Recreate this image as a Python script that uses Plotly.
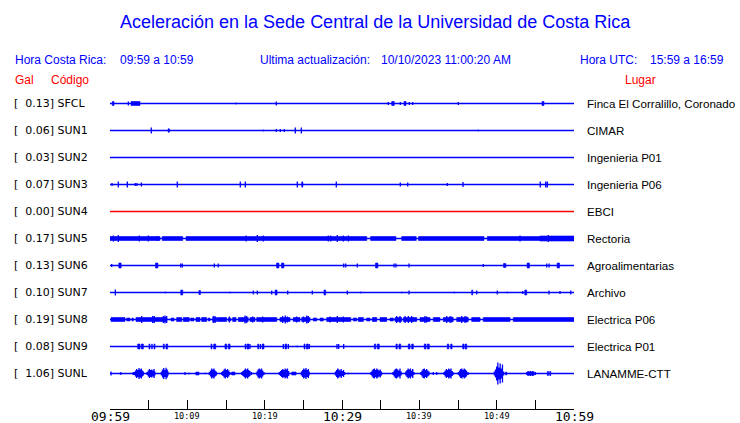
import plotly.graph_objects as go

# ---------------- data ----------------
STATIONS = ["SFCL", "SUN1", "SUN2", "SUN3", "SUN4", "SUN5", "SUN6", "SUN7", "SUN8", "SUN9", "SUNL"]
PEAK_GAL = [0.13, 0.06, 0.03, 0.07, 0.00, 0.17, 0.13, 0.10, 0.19, 0.08, 1.06]
PLACES = ["Finca El Corralillo, Coronado", "CIMAR", "Ingenieria P01", "Ingenieria P06", "EBCI",
          "Rectoria", "Agroalimentarias", "Archivo", "Electrica P06", "Electrica P01", "LANAMME-CTT"]

TICK_MINUTES = [0, 5, 10, 15, 20, 25, 30, 35, 40, 45, 50, 55, 60]
LABEL_MINUTES = [0, 10, 20, 30, 40, 50, 60]
LABEL_TEXT = ["09:59", "10:09", "10:19", "10:29", "10:39", "10:49", "10:59"]

# spikes: (minute after 09:59, relative amplitude); bands: (start minute, end minute, amplitude)
SFCL_SPIKES = [(2.37, 2), (16.33, 1), (21.50, 2), (35.99, 1.5), (37.54, 1.5), (38.70, 1.5), (39.14, 1.5), (45.04, 1.5)]
SFCL_BANDS = [(0.30, 0.52, 2), (2.72, 3.88, 2), (36.43, 36.76, 2), (38.02, 38.28, 2), (55.86, 56.12, 2)]

SUN1_SPIKES = [(5.34, 3), (7.59, 2), (19.82, 1), (21.50, 1.5), (22.02, 1.5), (22.54, 1.5), (23.96, 3), (24.74, 3), (47.63, 1)]
SUN1_BANDS = [(7.50, 7.68, 1.5)]

SUN2_SPIKES = []
SUN2_BANDS = []

SUN3_SPIKES = [(0.26, 1.5), (1.07, 3), (2.24, 3), (3.27, 1.5), (3.49, 1.5), (4.05, 2), (8.70, 3), (16.85, 3),
               (17.50, 3), (24.22, 3), (24.87, 3), (29.26, 3), (37.54, 2), (38.50, 2), (43.62, 1.5), (45.65, 2.5),
               (55.64, 3), (56.34, 3), (56.55, 3)]
SUN3_BANDS = [(24.80, 24.95, 2)]

SUN4_SPIKES = []
SUN4_BANDS = []

SUN5_SPIKES = [(0.43, 3), (1.07, 3.5), (3.79, 3), (4.95, 3), (6.12, 2.5), (17.59, 3), (19.05, 3.5), (19.82, 3),
               (28.23, 3), (28.54, 3), (29.39, 3.5), (30.17, 3), (30.82, 3), (53.02, 3), (56.68, 3.5)]
SUN5_BANDS = [(0.0, 6.47, 2), (6.76, 9.40, 2), (9.83, 33.20, 2), (33.70, 36.98, 2), (37.72, 39.60, 2),
              (39.90, 48.36, 2), (48.79, 55.60, 2), (55.60, 60.0, 2.5)]

SUN6_SPIKES = [(0.22, 1.5), (9.14, 2), (9.35, 2), (13.49, 2), (14.00, 2), (30.22, 2), (30.48, 2), (31.98, 2),
               (36.73, 2), (36.98, 2), (38.67, 2), (48.27, 1.5), (56.47, 2), (56.77, 2)]
SUN6_BANDS = [(1.14, 1.44, 2.5), (5.89, 6.19, 2.5), (21.54, 21.84, 2.5), (22.18, 22.48, 2.5), (34.34, 34.64, 2.5),
              (50.89, 51.19, 2), (53.94, 54.24, 2.5), (57.82, 58.12, 2.5)]

SUN7_SPIKES = [(0.69, 3), (7.15, 1), (15.52, 1), (18.53, 2), (19.05, 2), (20.91, 2), (22.98, 2), (26.16, 2),
               (30.69, 2), (32.42, 1), (37.72, 1), (38.67, 2), (44.52, 1), (47.42, 2), (50.08, 2), (51.38, 1),
               (53.37, 1.5), (56.77, 2), (58.19, 1.5), (59.58, 2)]
SUN7_BANDS = [(9.15, 9.40, 2.5), (11.50, 11.70, 2), (21.35, 21.60, 2.5), (27.67, 27.89, 2.5),
              (46.77, 46.90, 2.5), (53.64, 53.88, 2.5)]

SUN8_SPIKES = [(4.10, 3.5), (5.52, 3.5), (5.73, 3.5), (6.90, 3.5), (7.11, 4), (7.33, 3.5), (13.36, 3.5),
               (13.58, 3.5), (15.43, 3), (17.46, 4), (17.67, 3.5), (18.45, 3), (19.74, 3), (22.33, 3.5),
               (22.67, 4), (22.93, 3), (24.14, 3), (25.00, 3), (25.44, 4), (25.64, 3.5), (28.45, 3),
               (29.39, 3.5), (30.17, 3), (37.07, 3.5), (37.50, 3.5), (38.15, 3.5), (38.58, 3.5), (39.01, 3.5),
               (40.73, 3.5), (40.95, 3), (43.54, 3.5), (43.97, 3.5), (44.19, 3), (45.48, 3.5), (45.91, 3.5),
               (46.13, 3)]
SUN8_BANDS = [(0.13, 1.94, 2), (2.16, 2.59, 1.5), (2.84, 3.01, 1.5), (3.36, 5.60, 2), (5.60, 7.33, 2),
              (7.89, 8.28, 1.5), (8.62, 9.27, 2), (9.48, 10.25, 2), (10.43, 10.86, 1.5), (11.12, 11.64, 2),
              (11.85, 12.50, 2), (12.71, 12.93, 1.5), (13.28, 13.80, 2), (13.88, 15.09, 2), (15.30, 15.61, 1.5),
              (15.86, 16.29, 2), (16.60, 17.88, 2), (18.10, 18.75, 2), (18.97, 21.56, 2), (21.98, 23.28, 2),
              (23.70, 24.57, 2), (24.79, 25.86, 2), (26.29, 26.73, 1.5), (27.16, 27.58, 1.5), (28.02, 31.13, 2),
              (31.46, 31.90, 1.5), (32.11, 32.76, 2), (33.19, 33.62, 1.5), (33.92, 34.49, 2), (34.92, 35.78, 2),
              (36.21, 36.64, 1.5), (36.85, 37.72, 2), (37.93, 39.66, 2), (40.09, 41.38, 2), (41.81, 42.67, 2),
              (43.10, 44.39, 2), (44.83, 46.33, 2), (46.77, 47.85, 2), (48.27, 51.73, 2), (52.15, 60.0, 2)]

SUN9_SPIKES = [(18.10, 2.5), (19.44, 2.5), (22.41, 2.5), (23.06, 2.5), (24.22, 1), (25.77, 2.5), (29.35, 2.5),
               (29.57, 2.5), (30.22, 2.5)]
SUN9_BANDS = [(3.58, 3.88, 2.5), (4.05, 4.31, 2.5), (5.04, 5.17, 2.5), (5.39, 5.47, 2.5), (5.69, 5.82, 2.5),
              (6.89, 7.02, 2.5), (7.24, 7.46, 2.5), (13.06, 13.19, 2.5), (13.41, 13.67, 2.5), (14.87, 15.09, 2.5),
              (15.30, 15.52, 2.5), (17.46, 17.59, 2.5), (17.72, 17.98, 2.5), (19.10, 19.23, 2.5), (19.66, 19.91, 2.5),
              (22.63, 22.85, 2.5), (25.09, 25.22, 2.5), (25.39, 25.64, 2.5), (34.18, 34.36, 2.5), (34.57, 34.82, 2.5),
              (36.98, 37.15, 2.5), (37.37, 37.59, 2.5), (38.57, 38.79, 2.5), (39.01, 39.22, 2.5), (40.64, 40.86, 2.5),
              (41.03, 41.29, 2.5), (43.62, 43.80, 2.5), (44.06, 44.23, 2.5), (45.61, 45.78, 2.5), (45.91, 46.13, 2.5)]

SUNL_SPIKES = [(0.13, 2), (2.68, 0.8), (3.00, 1.5),
               (3.15, 1.5), (3.30, 3), (3.45, 4.5), (3.60, 3.5), (3.75, 5.5), (3.90, 4), (4.05, 5), (4.20, 3), (4.30, 2),
               (4.80, 1.5), (4.95, 3), (5.10, 4.5), (5.25, 3.5), (5.40, 4), (5.55, 3), (5.70, 4.5), (5.80, 2),
               (6.65, 2), (6.80, 4), (6.95, 5.5), (7.10, 3.5), (7.25, 5.7), (7.40, 4), (7.50, 2),
               (9.70, 1.5), (10.20, 1), (12.32, 1),
               (12.85, 1.5), (13.00, 3), (13.15, 5), (13.30, 4), (13.45, 5), (13.60, 3), (13.75, 2),
               (14.45, 1.5), (14.60, 2.5), (14.75, 4), (14.90, 5), (15.05, 3.5), (15.20, 4.5), (15.35, 3), (15.50, 1.5),
               (17.05, 1.5), (17.20, 2.5), (17.35, 3.5), (17.50, 5), (17.65, 4), (17.80, 5), (17.95, 3.5), (18.10, 2.5), (18.30, 1.5),
               (19.00, 2), (19.15, 4), (19.30, 5), (19.45, 4), (19.60, 5), (19.75, 3), (19.90, 1.5),
               (21.90, 1.5), (22.05, 2.5), (22.20, 3.5), (22.35, 4.5), (22.50, 3.5), (22.65, 5), (22.80, 4), (22.95, 5), (23.10, 2.5),
               (24.75, 2), (24.90, 3.5), (25.05, 5), (25.20, 4), (25.35, 5.5), (25.50, 3.5), (25.65, 4.5), (25.75, 2),
               (29.15, 2), (29.30, 3.5), (29.45, 5), (29.60, 4), (29.75, 3), (29.90, 4.5), (30.05, 2.5), (30.20, 3.5), (30.35, 1.5),
               (30.80, 1),
               (33.75, 1.5), (33.90, 3), (34.05, 4.5), (34.20, 5), (34.35, 3.5), (34.50, 5), (34.65, 4), (34.80, 3), (34.95, 4), (35.10, 2),
               (36.60, 1.5), (36.75, 3), (36.90, 4.5), (37.05, 5), (37.20, 4), (37.35, 3), (37.50, 5), (37.65, 2),
               (38.25, 2), (38.40, 3.5), (38.55, 5), (38.70, 4), (38.85, 5), (39.00, 3), (39.15, 4.5), (39.30, 1.5),
               (40.20, 1.5), (40.35, 3), (40.50, 4.5), (40.65, 5), (40.80, 3.5), (40.95, 4.5), (41.10, 3), (41.25, 2),
               (41.81, 1.5), (42.24, 1.5),
               (43.20, 1.5), (43.35, 3), (43.50, 4.5), (43.65, 3.5), (43.80, 5), (43.95, 4), (44.10, 5), (44.25, 2.5), (44.35, 1.5),
               (45.05, 1.5), (45.20, 3), (45.35, 4.5), (45.50, 5), (45.65, 3.5), (45.80, 5), (45.95, 4), (46.10, 3), (46.30, 1.5),
               (49.70, 2), (49.85, 4), (50.00, 7), (50.15, 11), (50.30, 6), (50.45, 10), (50.60, 5), (50.75, 9), (50.90, 2),
               (53.90, 1.5), (54.05, 2.5), (54.20, 2), (54.35, 2.5), (54.50, 2), (54.65, 2.5), (54.80, 2), (55.00, 1.5)]
SUNL_BANDS = [(1.30, 1.45, 1), (11.10, 11.50, 1.5), (15.73, 16.16, 1.5), (23.50, 24.05, 1.5), (51.15, 51.30, 1.5),
              (56.55, 56.70, 2), (56.85, 57.00, 2)]

SPIKES = [SFCL_SPIKES, SUN1_SPIKES, SUN2_SPIKES, SUN3_SPIKES, SUN4_SPIKES, SUN5_SPIKES,
          SUN6_SPIKES, SUN7_SPIKES, SUN8_SPIKES, SUN9_SPIKES, SUNL_SPIKES]
BANDS = [SFCL_BANDS, SUN1_BANDS, SUN2_BANDS, SUN3_BANDS, SUN4_BANDS, SUN5_BANDS,
         SUN6_BANDS, SUN7_BANDS, SUN8_BANDS, SUN9_BANDS, SUNL_BANDS]

# ---------------- layout / style ----------------
W, H = 740, 423
L, R, T, B = 110, 166, 90, 14
PW, PH = W - L - R, H - T - B
ROW = 27
TOP_PAD = 13.5
BLUE = "#0000FF"
RED = "#FF0000"


def fx(px):
    return (px - L) / PW


def fy(py):
    return (H - B - py) / PH


fig = go.Figure()

for i, name in enumerate(STATIONS):
    base = -ROW * i
    color = RED if name == "SUN4" else BLUE
    xs, ys = [0], [base]
    for t, a in sorted(SPIKES[i]):
        xs += [t, t, t, t]
        ys += [base, base + a, base - a, base]
    xs.append(60)
    ys.append(base)
    fig.add_trace(go.Scatter(x=xs, y=ys, mode="lines", line=dict(color=color, width=1.3),
                             hoverinfo="skip", showlegend=False))
    if BANDS[i]:
        bx, by = [], []
        for t0, t1, a in BANDS[i]:
            bx += [t0, t1, t1, t0, t0, None]
            by += [base - a, base - a, base + a, base + a, base - a, None]
        fig.add_trace(go.Scatter(x=bx, y=by, mode="lines", fill="toself", fillcolor=color,
                                 line=dict(color=color, width=0.6), hoverinfo="skip", showlegend=False))

annotations = []
label_font = dict(family="DejaVu Sans", size=11, color="black")
place_font = dict(family="Liberation Sans", size=11.6, color="black")
for i, name in enumerate(STATIONS):
    base = -ROW * i
    annotations.append(dict(xref="paper", yref="y", x=fx(12), y=base, xanchor="left", yanchor="middle",
                            text="[\u00a0\u00a0%.2f]\u00a0%s" % (PEAK_GAL[i], name),
                            showarrow=False, font=label_font))
    annotations.append(dict(xref="paper", yref="y", x=fx(585), y=base, xanchor="left", yanchor="middle",
                            text=PLACES[i], showarrow=False, font=place_font))

for m, txt in zip(LABEL_MINUTES, LABEL_TEXT):
    major = m % 30 == 0
    annotations.append(dict(xref="x", yref="paper", x=m, y=fy(416.5 if major else 415.5),
                            xanchor="center", yanchor="middle", text=txt, showarrow=False,
                            font=dict(family="DejaVu Sans Mono", size=13 if major else 8.5, color="black")))

hdr = dict(family="Liberation Sans", size=12, color=BLUE)
red = dict(family="Liberation Sans", size=12, color=RED)
for px, py, txt, f in [(13, 60, "Hora Costa Rica:", hdr), (118, 60, "09:59 a 10:59", hdr),
                       (258, 60, "Ultima actualización:", hdr), (379, 60, "10/10/2023 11:00:20 AM", hdr),
                       (578, 60, "Hora UTC:", hdr), (648, 60, "15:59 a 16:59", hdr),
                       (13, 80, "Gal", red), (49, 80, "Código", red), (623, 80, "Lugar", red)]:
    annotations.append(dict(xref="paper", yref="paper", x=fx(px), y=fy(py), xanchor="left", yanchor="middle",
                            text=txt, showarrow=False, font=f))

annotations.append(dict(xref="paper", yref="paper", x=fx(375), y=fy(22), xanchor="center", yanchor="middle",
                        text="Aceleración en la Sede Central de la Universidad de Costa Rica", showarrow=False,
                        font=dict(family="Liberation Sans", size=18, color=BLUE)))

fig.update_layout(
    width=W, height=H,
    margin=dict(l=L, r=R, t=T, b=B, pad=0),
    paper_bgcolor="white", plot_bgcolor="white",
    showlegend=False,
    annotations=annotations,
    xaxis=dict(range=[0, 60], showline=True, linecolor="black", linewidth=1, ticks="inside", ticklen=9,
               tickcolor="black", tickwidth=1, tickvals=TICK_MINUTES, showticklabels=False,
               showgrid=False, zeroline=False, fixedrange=True),
    yaxis=dict(range=[-ROW * 10 - 35.5, TOP_PAD], visible=False, fixedrange=True),
)

fig.write_html("out.html", config={"displayModeBar": False},
               post_script="document.body.style.margin='0';document.body.style.padding='0';")
